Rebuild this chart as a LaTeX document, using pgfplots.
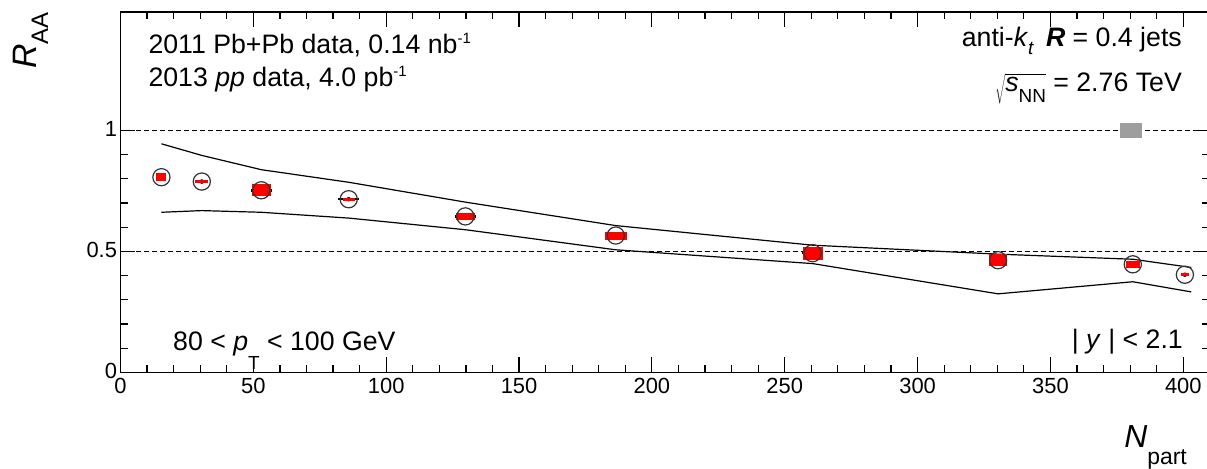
\documentclass[border=0pt]{standalone}
\usepackage{fontspec}
\setmainfont{Liberation Sans}
\usepackage{pgfplots}
\pgfplotsset{compat=1.18}

\newcommand\ann{\fontsize{26.8}{32}\selectfont}
\newcommand\sub[3]{\raisebox{-#1}{\fontsize{#2}{#2}\selectfont #3}}
\newcommand\sups[1]{\raisebox{10bp}{\fontsize{15}{15}\selectfont #1}}

\pgfplotstableread{
x     y     w    h    ex
15.4  0.807 10   8    0
30.6  0.789 13   2.5  0
53.0  0.753 19   12   4.0
85.9  0.716 12   3    4.0
129.8 0.645 19   7    4.0
186.4 0.566 22   8    4.1
260.5 0.493 20   13   3.9
330.3 0.464 17.5 12   3.4
381.0 0.447 14   7    0
400.6 0.404 8    3    0
}\raa

\begin{document}
\begin{tikzpicture}
\begin{axis}[
  scale only axis,
  width=1089.4bp, height=360.6bp,
  xmin=0, xmax=410, ymin=0, ymax=1.49,
  axis line style={line width=1.3bp},
  xtick={0,50,...,400}, minor x tick num=4,
  ytick={0,0.5,1}, yticklabels={0,0.5,1}, minor y tick num=4,
  tick style={black, line width=1.2bp},
  major tick length=15bp, minor tick length=7.5bp,
  tick align=inside,
  tick label style={font=\fontsize{22}{22}\selectfont},
  xticklabel style={yshift=-2bp},
  yticklabel style={yshift=2bp},
  /pgf/number format/assume math mode=true,
  clip=false,
]
% reference lines
\addplot[black, line width=1.2bp, dash pattern=on 5bp off 3bp] coordinates {(0,1) (410,1)};
\addplot[black, line width=1.2bp, dash pattern=on 5bp off 3bp] coordinates {(0,0.5) (410,0.5)};
% uncertainty band edges
\addplot[black, line width=1.2bp] coordinates {
 (15.4,0.945) (30.6,0.897) (53.0,0.838) (85.9,0.786) (129.8,0.704)
 (186.4,0.607) (260.5,0.526) (330.3,0.489) (381.0,0.468) (403.0,0.434)};
\addplot[black, line width=1.2bp] coordinates {
 (15.4,0.662) (30.6,0.669) (53.0,0.662) (85.9,0.638) (129.8,0.590)
 (186.4,0.507) (260.5,0.450) (330.3,0.325) (381.0,0.375) (403.0,0.333)};
% normalisation box
\addplot[fill=black!38, draw=none] coordinates {(376,0.969) (384.5,0.969) (384.5,1.03) (376,1.03)} -- cycle;
% horizontal bars
\addplot[black, only marks, mark=none,
  error bars/.cd, x dir=both, x explicit, error mark=none,
  error bar style={line width=2.5bp, black}]
  table[x=x, y=y, x error=ex] {\raa};
% systematic boxes
\addplot[scatter, only marks, mark=*, mark size=0.01pt,
  visualization depends on={\thisrow{w} \as \bw},
  visualization depends on={\thisrow{h} \as \bh},
  scatter/@pre marker code/.code={%
    \pgfscope\pgfsetfillcolor{red}%
    \pgfpathrectangle{\pgfpoint{-0.5*\bw bp}{-0.5*\bh bp}}{\pgfpoint{\bw bp}{\bh bp}}%
    \pgfusepath{fill}\endpgfscope
    \pgfscope\pgfsetstrokeopacity{0}\pgfsetfillopacity{0}},
  scatter/@post marker code/.code={\endpgfscope}]
  table[x=x, y=y] {\raa};
% points
\addplot[only marks, mark=o, mark size=8.6bp, mark options={draw=black!80, line width=1.2bp}]
  table[x=x, y=y] {\raa};
\end{axis}

\node[anchor=base west, inner sep=0] at (27.8bp,319.2bp)
  {\ann 2011 Pb+Pb data, 0.14 nb\sups{-1}};
\node[anchor=base west, inner sep=0] at (27.8bp,285.8bp)
  {\ann 2013 \textit{pp} data, 4.0 pb\sups{-1}};
\node[anchor=base east, inner sep=0] at (1061.5bp,325.8bp)
  {\ann anti-\textit{k}\sub{0.3em}{19}{\textit{t}}\, \textbf{\textit{R}} = 0.4 jets};
\node[anchor=base east, inner sep=0] at (1061.5bp,281bp)
  {\ann $\sqrt{\mbox{\ann\textit{s}\sub{0.4em}{19}{NN}}}$ = 2.76 TeV};
\node[anchor=base west, inner sep=0] at (52.5bp,21.9bp)
  {\ann 80 < \textit{p}\sub{0.7em}{19}{T} < 100 GeV};
\node[anchor=base east, inner sep=0] at (1062.5bp,24.5bp)
  {\ann | \textit{y} | < 2.1};
\node[anchor=base east, inner sep=0, rotate=90] at (-83.8bp,360.5bp)
  {\fontsize{34}{34}\selectfont\textit{R}\sub{0.34em}{24}{AA}};
\node[anchor=base east, inner sep=0] at (1066.5bp,-74.5bp)
  {\fontsize{32}{32}\selectfont\textit{N}\sub{0.56em}{23}{part}};

\pgfresetboundingbox
\path[use as bounding box] (-120.5bp,-96.5bp) rectangle (1086.5bp,372.5bp);
\end{tikzpicture}
\end{document}
